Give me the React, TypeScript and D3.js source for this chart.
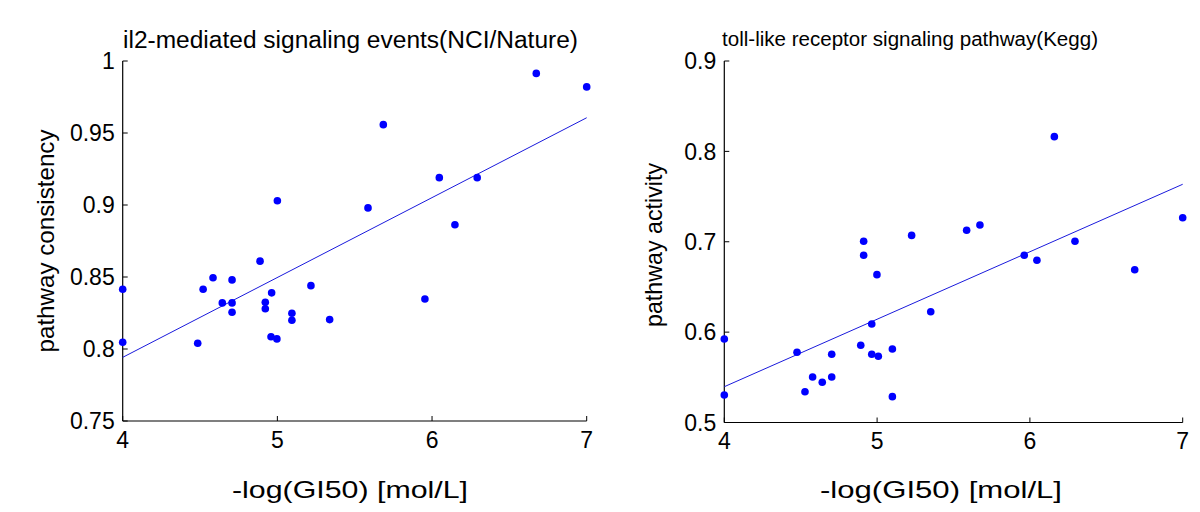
import React from "react";
import * as d3 from "d3";

// ---- Left panel data: il2-mediated signaling events (NCI/Nature)
const leftX = [4.0, 4.0, 4.485, 4.52, 4.584, 4.644, 4.707, 4.707, 4.707, 4.888, 4.922, 4.922, 4.963, 4.959, 4.997, 5.094, 5.094, 5.217, 5.338, 5.0, 5.685, 5.586, 6.047, 6.292, 6.148, 6.674, 7.0, 5.954];
const leftY = [0.8415, 0.8047, 0.804, 0.8415, 0.8495, 0.832, 0.832, 0.848, 0.8255, 0.861, 0.8324, 0.828, 0.839, 0.8085, 0.807, 0.8248, 0.82, 0.844, 0.8204, 0.903, 0.9558, 0.898, 0.919, 0.919, 0.8863, 0.9914, 0.982, 0.8347];
const leftFitX = [4, 7];
const leftFitY = [0.7942, 0.9606];
const leftYTicks = [0.75, 0.8, 0.85, 0.9, 0.95, 1];
const leftYTickLabels = ["0.75", "0.8", "0.85", "0.9", "0.95", "1"];

// ---- Right panel data: toll-like receptor signaling pathway (Kegg)
const rightX = [4.0, 4.0, 4.476, 4.528, 4.578, 4.641, 4.703, 4.703, 4.893, 4.912, 4.912, 4.965, 4.965, 5.008, 4.999, 5.1, 5.1, 5.226, 5.351, 5.586, 5.673, 6.16, 6.295, 7.0, 5.963, 6.046, 6.686];
const rightY = [0.5924, 0.5304, 0.5777, 0.534, 0.5503, 0.5445, 0.5503, 0.5755, 0.5854, 0.7005, 0.685, 0.609, 0.5755, 0.5733, 0.6636, 0.5813, 0.5286, 0.707, 0.6226, 0.7127, 0.7185, 0.8163, 0.7005, 0.7266, 0.685, 0.6795, 0.669];
const rightFitX = [4, 7];
const rightFitY = [0.5396, 0.7636];
const rightYTicks = [0.5, 0.6, 0.7, 0.8, 0.9];
const rightYTickLabels = ["0.5", "0.6", "0.7", "0.8", "0.9"];

const xTicks = [4, 5, 6, 7];
const xTickLabels = ["4", "5", "6", "7"];
const xLabel = "-log(GI50) [mol/L]";

type PanelProps = {
  xs: number[]; ys: number[]; fx: number[]; fy: number[];
  yDomain: [number, number]; yTicks: number[]; yTickLabels: string[];
  left: number; right: number; top: number; bottom: number;
  title: string; titleX: number; titleY: number; titleSize: number; titleLen: number;
  yLabel: string; yLabelX: number; yLabelY: number; yLabelLen: number;
  xLabelX: number; xLabelLen: number; tickSize: number; labelSize: number;
};

const FONT = "Liberation Sans, Arial, sans-serif";

function Panel(p: PanelProps) {
  const x = d3.scaleLinear().domain([4, 7]).range([p.left, p.right]);
  const y = d3.scaleLinear().domain(p.yDomain).range([p.bottom, p.top]);
  const line = d3.line<number>().x((_, i) => x(p.fx[i])).y((d) => y(d));
  return (
    <g>
      <text x={p.titleX} y={p.titleY} fontSize={p.titleSize} fontFamily={FONT} fill="#000"
        textLength={p.titleLen} lengthAdjust="spacingAndGlyphs">{p.title}</text>
      {/* axes */}
      <line x1={p.left} x2={p.left} y1={p.top} y2={p.bottom} stroke="#000" strokeWidth={1.2} />
      <line x1={p.left} x2={p.right} y1={p.bottom} y2={p.bottom} stroke="#000" strokeWidth={1.2} />
      {p.yTicks.map((t, i) => (
        <g key={"y" + i}>
          <line x1={p.left} x2={p.left + 5} y1={y(t)} y2={y(t)} stroke="#000" strokeWidth={1} />
          <text x={p.left - 8} y={y(t)} dy="0.36em" textAnchor="end" fontSize={p.tickSize} fontFamily={FONT} fill="#000">{p.yTickLabels[i]}</text>
        </g>
      ))}
      {xTicks.map((t, i) => (
        <g key={"x" + i}>
          <line x1={x(t)} x2={x(t)} y1={p.bottom} y2={p.bottom - 5} stroke="#000" strokeWidth={1} />
          <text x={x(t)} y={p.bottom + 10} dy="0.72em" textAnchor="middle" fontSize={p.tickSize} fontFamily={FONT} fill="#000">{xTickLabels[i]}</text>
        </g>
      ))}
      <text x={p.xLabelX} y={498} textAnchor="middle" fontSize={p.labelSize} fontFamily={FONT} fill="#000"
        textLength={p.xLabelLen} lengthAdjust="spacingAndGlyphs">{xLabel}</text>
      <text transform={`translate(${p.yLabelX},${p.yLabelY}) rotate(-90)`} textAnchor="middle" fontSize={p.labelSize} fontFamily={FONT} fill="#000"
        textLength={p.yLabelLen} lengthAdjust="spacingAndGlyphs">{p.yLabel}</text>
      <path d={line(p.fy) || ""} fill="none" stroke="#1a1adc" strokeWidth={1} />
      {p.xs.map((v, i) => (
        <circle key={i} cx={x(v)} cy={y(p.ys[i])} r={3.8} fill="#0000ff" />
      ))}
    </g>
  );
}

export default function App() {
  return (
    <div style={{ position: "absolute", left: 0, top: 0 }}>
      <svg width={1200} height={512} style={{ display: "block", background: "#fff" }}>
        <Panel xs={leftX} ys={leftY} fx={leftFitX} fy={leftFitY}
          yDomain={[0.75, 1]} yTicks={leftYTicks} yTickLabels={leftYTickLabels}
          left={122.7} right={586.7} top={61} bottom={421}
          title="il2-mediated signaling events(NCI/Nature)" titleX={123} titleY={48} titleSize={23} titleLen={455}
          yLabel="pathway consistency" yLabelX={54} yLabelY={241} yLabelLen={223}
          xLabelX={350} xLabelLen={236} tickSize={23} labelSize={24} />
        <Panel xs={rightX} ys={rightY} fx={rightFitX} fy={rightFitY}
          yDomain={[0.5, 0.9]} yTicks={rightYTicks} yTickLabels={rightYTickLabels}
          left={724.3} right={1182.7} top={61} bottom={422.5}
          title="toll-like receptor signaling pathway(Kegg)" titleX={722} titleY={46} titleSize={20} titleLen={376}
          yLabel="pathway activity" yLabelX={662} yLabelY={245} yLabelLen={164}
          xLabelX={941} xLabelLen={242} tickSize={23} labelSize={24} />
      </svg>
    </div>
  );
}
